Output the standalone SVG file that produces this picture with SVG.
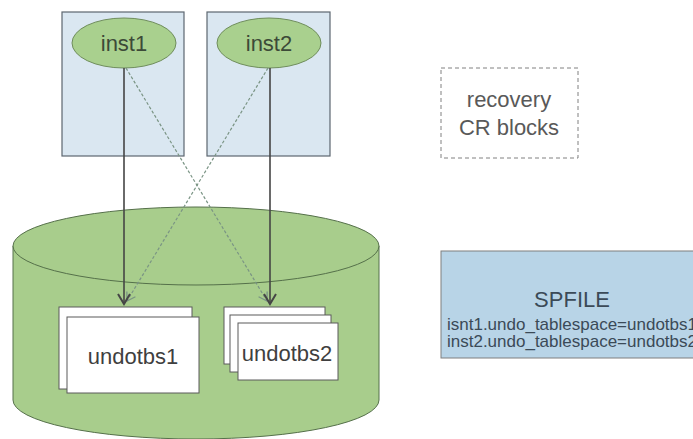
<svg xmlns="http://www.w3.org/2000/svg" width="693" height="439" viewBox="0 0 693 439">
  <defs>
    <style>
      .inst-box { fill: #dae7f1; stroke: #5d6770; stroke-width: 1.2; }
      .inst-ell { fill: #a9d08e; stroke: #6f8d5c; stroke-width: 1; }
      .lbl { font-family: "Liberation Sans", Arial, sans-serif; font-size: 22px; text-anchor: middle; }
      .cfg { font-family: "Liberation Sans", Arial, sans-serif; font-size: 17px; text-anchor: middle; fill: #3b4a57; }
      .cyl { fill: #a8cd8c; stroke: #55704a; stroke-width: 1; }
      .page { fill: #ffffff; stroke: #5a5a5a; stroke-width: 1; }
      .solid { stroke: #454545; stroke-width: 1.6; fill: none; }
      .dash { stroke: #7a9484; stroke-width: 1.2; stroke-dasharray: 3 2; fill: none; }
    </style>
    <marker id="arr" markerUnits="userSpaceOnUse" markerWidth="16" markerHeight="16" viewBox="0 0 16 16" refX="13" refY="8" orient="auto">
      <path d="M3,2 L13,8 L3,14" fill="none" stroke="#454545" stroke-width="2"/>
    </marker>
    <marker id="arrd" markerUnits="userSpaceOnUse" markerWidth="14" markerHeight="14" viewBox="0 0 14 14" refX="11" refY="7" orient="auto">
      <path d="M3,2 L11,7 L3,12" fill="none" stroke="#7a9484" stroke-width="1.3"/>
    </marker>
  </defs>

  <rect width="693" height="439" fill="#ffffff"/>

  <g id="inst1">
    <rect class="inst-box" x="62" y="12" width="122" height="144"/>
    <ellipse class="inst-ell" cx="124" cy="43" rx="52" ry="25"/>
    <text class="lbl" x="124" y="51" fill="#3c4a38">inst1</text>
  </g>

  <g id="inst2">
    <rect class="inst-box" x="207" y="12" width="123" height="144"/>
    <ellipse class="inst-ell" cx="269" cy="43" rx="52" ry="25"/>
    <text class="lbl" x="269" y="51" fill="#3c4a38">inst2</text>
  </g>

  <g id="recovery">
    <rect x="441" y="68" width="137" height="90" fill="none" stroke="#808080" stroke-width="1" stroke-dasharray="4 3"/>
    <text class="lbl" x="509" y="107" fill="#595959">recovery</text>
    <text class="lbl" x="509" y="135" fill="#595959">CR blocks</text>
  </g>

  <g id="disk">
    <path class="cyl" d="M13,246 L13,400 A183,39 0 0 0 379,400 L379,246 Z"/>
    <ellipse class="cyl" cx="196" cy="246" rx="183" ry="39"/>
  </g>

  <g id="undotbs1">
    <rect class="page" x="59" y="307" width="133" height="82"/>
    <rect class="page" x="67" y="317" width="132" height="76"/>
    <text class="lbl" x="133" y="364" fill="#3f3f3f">undotbs1</text>
  </g>

  <g id="undotbs2">
    <rect class="page" x="224" y="307" width="101" height="57"/>
    <rect class="page" x="230" y="315" width="101" height="57"/>
    <rect class="page" x="238" y="323" width="100" height="57"/>
    <text class="lbl" x="287" y="361" fill="#3f3f3f">undotbs2</text>
  </g>

  <g id="spfile">
    <rect x="441" y="251" width="262" height="107" fill="#b8d4e7" stroke="#7f7f7f" stroke-width="1"/>
    <text class="lbl" x="572" y="307" fill="#3b4a57">SPFILE</text>
    <text class="cfg" x="572" y="330">isnt1.undo_tablespace=undotbs1</text>
    <text class="cfg" x="572" y="347">inst2.undo_tablespace=undotbs2</text>
  </g>

  <g id="connectors">
    <line class="dash" x1="126" y1="68" x2="267" y2="301" marker-end="url(#arrd)"/>
    <line class="dash" x1="268" y1="68" x2="127" y2="301" marker-end="url(#arrd)"/>
    <line class="solid" x1="124" y1="68" x2="124" y2="304" marker-end="url(#arr)"/>
    <line class="solid" x1="270" y1="68" x2="270" y2="304" marker-end="url(#arr)"/>
  </g>
</svg>
